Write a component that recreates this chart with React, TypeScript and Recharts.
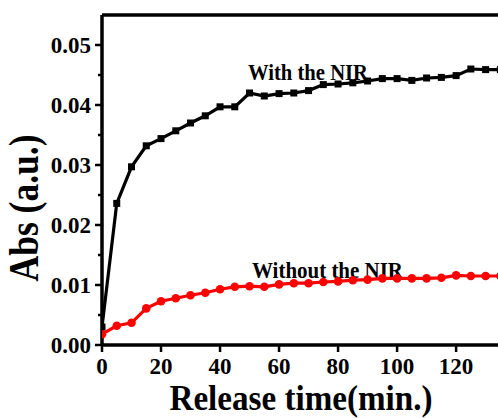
import { LineChart, Line, XAxis, YAxis, ReferenceLine, Customized } from 'recharts';

// release time (min.)
const times = [0, 5, 10, 15, 20, 25, 30, 35, 40, 45, 50, 55, 60, 65, 70, 75, 80, 85, 90, 95, 100, 105, 110, 115, 120, 125, 130, 135];
// Abs with NIR
const withNir = [
  0.003, 0.0236, 0.0297, 0.0332, 0.0344, 0.0357, 0.037, 0.0382, 0.0397, 0.0397, 0.042, 0.0415, 0.0419, 0.042,
  0.0424, 0.0434, 0.0435, 0.0437, 0.044, 0.0444, 0.0444, 0.0441, 0.0445, 0.0446, 0.0449, 0.046, 0.0459, 0.0459,
];
// Abs without NIR
const withoutNir = [
  0.0018, 0.0032, 0.0037, 0.0061, 0.0073, 0.0078, 0.0083, 0.0087, 0.0093, 0.0097, 0.0098, 0.0097, 0.0101, 0.0103,
  0.0103, 0.0105, 0.0106, 0.0108, 0.0109, 0.0111, 0.0111, 0.0111, 0.0111, 0.0112, 0.0116, 0.0115, 0.0115, 0.0115,
];
const xTicks = [0, 20, 40, 60, 80, 100, 120];
const yTicks = [0, 0.005, 0.01, 0.015, 0.02, 0.025, 0.03, 0.035, 0.04, 0.045, 0.05];
const yMajor = [0, 0.01, 0.02, 0.03, 0.04, 0.05];

const data = times.map((t, i) => ({ t, a: withNir[i], b: withoutNir[i] }));

const FONT = '"Liberation Serif", "Times New Roman", serif';

const YTick = (props: any) => {
  const { x, y, payload } = props;
  const major = yMajor.some((m) => Math.abs(m - payload.value) < 1e-9);
  return (
    <g>
      <line x1={x - (major ? 7 : 4)} x2={x} y1={y} y2={y} stroke='#000' strokeWidth={2.5} />
      {major && (
        <text x={x - 11} y={y} dy={8} textAnchor='end' fontFamily={FONT} fontWeight='bold' fontSize={23} fill='#000'>
          {payload.value.toFixed(2)}
        </text>
      )}
    </g>
  );
};

const XTick = (props: any) => {
  const { x, y, payload } = props;
  return (
    <g>
      <line x1={x} x2={x} y1={y} y2={y + 7} stroke='#000' strokeWidth={2.5} />
      <text x={x} y={y + 29} textAnchor='middle' fontFamily={FONT} fontWeight='bold' fontSize={23} fill='#000'>
        {payload.value}
      </text>
    </g>
  );
};

const SquareDot = (props: any) => {
  const { cx, cy, index } = props;
  if (cx == null || cy == null) return <g key={`s-${index}`} />;
  return <rect key={`s-${index}`} x={cx - 3.5} y={cy - 3.5} width={7} height={7} fill='#000' />;
};

const RoundDot = (props: any) => {
  const { cx, cy, index } = props;
  if (cx == null || cy == null) return <g key={`c-${index}`} />;
  return <circle key={`c-${index}`} cx={cx} cy={cy} r={4.3} fill='#ff0000' />;
};

const Texts = () => (
  <g fontFamily={FONT} fontWeight='bold' fill='#000'>
    <text x={248} y={80} fontSize={24} textLength={120} lengthAdjust='spacingAndGlyphs'>
      With the NIR
    </text>
    <text x={252} y={278} fontSize={24} textLength={151} lengthAdjust='spacingAndGlyphs'>
      Without the NIR
    </text>
    <text x={301} y={410} fontSize={35} textAnchor='middle' textLength={263} lengthAdjust='spacingAndGlyphs'>
      Release time(min.)
    </text>
    <text
      x={0}
      y={0}
      fontSize={42}
      textAnchor='middle'
      textLength={147}
      lengthAdjust='spacingAndGlyphs'
      transform='translate(38,208) rotate(-90)'
    >
      Abs (a.u.)
    </text>
  </g>
);

export default function App() {
  return (
    <div style={{ position: 'absolute', left: 0, top: 0, background: '#fff' }}>
      <LineChart width={498} height={418} data={data} margin={{ top: 15, right: 0, bottom: 43, left: 42 }}>
        <XAxis
          dataKey='t'
          type='number'
          domain={[0, 134.2]}
          allowDataOverflow
          ticks={xTicks}
          height={30}
          tickSize={0}
          tickMargin={0}
          tick={<XTick />}
          axisLine={{ stroke: '#000', strokeWidth: 3.5 }}
          interval={0}
        />
        <YAxis
          type='number'
          domain={[0, 0.055]}
          allowDataOverflow
          ticks={yTicks}
          width={60}
          tickSize={0}
          tickMargin={0}
          tick={<YTick />}
          axisLine={{ stroke: '#000', strokeWidth: 3.5 }}
          interval={0}
        />
        <ReferenceLine y={0.055} stroke='#000' strokeWidth={3.5} ifOverflow='visible' />
        <Line
          dataKey='a'
          stroke='#000'
          strokeWidth={3.2}
          dot={SquareDot}
          activeDot={false}
          isAnimationActive={false}
        />
        <Line
          dataKey='b'
          stroke='#ff0000'
          strokeWidth={3.2}
          dot={RoundDot}
          activeDot={false}
          isAnimationActive={false}
        />
        <Customized component={Texts} />
      </LineChart>
    </div>
  );
}
